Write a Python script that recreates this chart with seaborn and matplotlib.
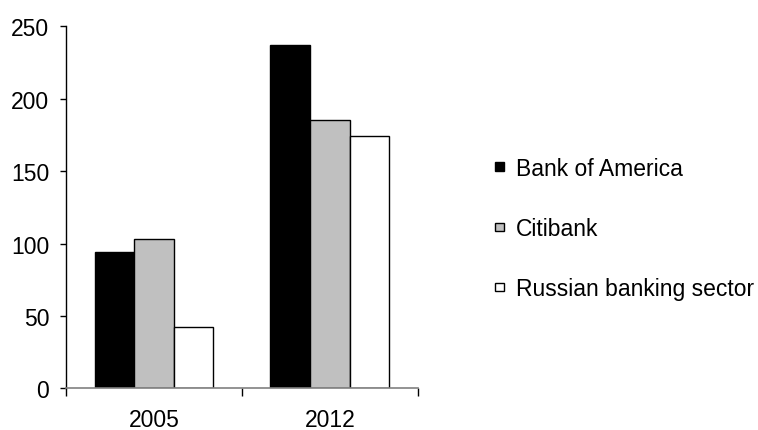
import pandas as pd
import matplotlib
matplotlib.use("Agg")
import matplotlib.pyplot as plt
import seaborn as sns
from matplotlib.ticker import FixedLocator

# --- data ---
years = ["2005", "2012"]
banks = ["Bank of America", "Citibank", "Russian banking sector"]
bank_of_america = [94, 237]
citibank = [103, 185]
russian_sector = [42, 174]
bar_colors = ["#000000", "#c0c0c0", "#ffffff"]

df = pd.DataFrame({
    "year": years * 3,
    "bank": [banks[0]] * 2 + [banks[1]] * 2 + [banks[2]] * 2,
    "value": bank_of_america + citibank + russian_sector,
})

sns.set_theme(style="white")
plt.rcParams["font.family"] = ["Liberation Sans", "DejaVu Sans"]
plt.rcParams["text.color"] = "black"

fig = plt.figure(figsize=(7.58, 4.31), dpi=100)
ax = fig.add_axes([0.0871, 0.0967, 0.4643, 0.84])

sns.barplot(data=df, x="year", y="value", hue="bank", order=years,
            hue_order=banks, palette=bar_colors, width=0.676,
            edgecolor="black", linewidth=1.0, saturation=1, ax=ax)

ax.set_xlim(-0.5, 1.5)
ax.set_ylim(0, 250)
ax.set_yticks([0, 50, 100, 150, 200, 250])
ax.set_xlabel("")
ax.set_ylabel("")

# spines
ax.spines["top"].set_visible(False)
ax.spines["right"].set_visible(False)
ax.spines["left"].set_color("black")
ax.spines["left"].set_linewidth(1.0)
ax.spines["bottom"].set_color("#808080")
ax.spines["bottom"].set_linewidth(1.2)

# ticks: y outward, x labels centered with tick marks at category borders
ax.tick_params(axis="y", direction="out", length=4, width=1, color="black",
               pad=8, labelsize=16.5, left=True)
ax.tick_params(axis="x", which="major", length=0, pad=14.5, labelsize=16.5)
ax.xaxis.set_minor_locator(FixedLocator([-0.5, 0.5, 1.5]))
ax.tick_params(axis="x", which="minor", direction="out", length=6, width=1,
               color="black", bottom=True)
for lbl in ax.get_xticklabels() + ax.get_yticklabels():
    lbl.set_color("black")

handles, labels = ax.get_legend_handles_labels()
ax.get_legend().remove()
fig.legend(handles, labels, loc="center left", bbox_to_anchor=(0.641, 0.467),
           frameon=False, fontsize=16.5, handlelength=0.38, handleheight=0.2,
           handletextpad=0.55, labelspacing=1.62, borderaxespad=0,
           labelcolor="black")

fig.savefig("out.png", dpi=100)
